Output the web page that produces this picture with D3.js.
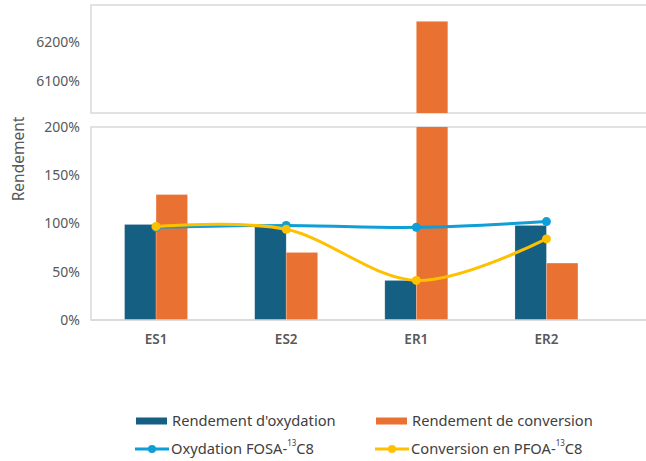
<!DOCTYPE html>
<html>
<head>
<meta charset="utf-8">
<script src="https://cdn.jsdelivr.net/npm/d3@7"></script>
<style>
  html, body { margin: 0; padding: 0; background: #fff; }
  svg { display: block; font-family: "Noto Sans", "Open Sans", sans-serif; }
</style>
</head>
<body>
<svg id="chart" width="646" height="461"></svg>
<script>
// Categories and series values (percent)
const categories = ["ES1", "ES2", "ER1", "ER2"];
const rendementOxydation = [99, 97, 41, 98];
const rendementConversion = [130, 70, 6253, 59];
const oxydationFOSA = [96, 98, 96, 102];
const conversionPFOA = [97, 94, 41, 84];

const lowerTicks = [0, 50, 100, 150, 200];
const upperTicks = [6100, 6200];

const colors = {
  oxydation: "#156082",
  conversion: "#E97132",
  fosa: "#0F9ED5",
  pfoa: "#FFC000"
};

const svg = d3.select("#chart");

// Two stacked panels sharing the same x axis (broken y axis)
const left = 91, right = 700;
const upper = { top: 5, bottom: 113 };
const lower = { top: 127, bottom: 320 };

const x = d3.scaleBand().domain(categories).range([91, 611.5]).padding(0);
const barW = x.bandwidth() * 0.242;
const cx = c => x(c) + x.bandwidth() / 2;

const yLow = d3.scaleLinear().domain([0, 200]).range([lower.bottom, lower.top]);
const yUp = d3.scaleLinear().domain([6000, 6300]).range([120, 3]);

// Clip paths for each panel
const defs = svg.append("defs");
defs.append("clipPath").attr("id", "clipUp").append("rect")
  .attr("x", left).attr("y", upper.top).attr("width", right - left).attr("height", upper.bottom - upper.top);
defs.append("clipPath").attr("id", "clipLow").append("rect")
  .attr("x", left).attr("y", lower.top).attr("width", right - left).attr("height", lower.bottom - lower.top);

// Panel frames
[upper, lower].forEach(p => {
  svg.append("rect")
    .attr("x", left).attr("y", p.top)
    .attr("width", right - left).attr("height", p.bottom - p.top)
    .attr("fill", "none").attr("stroke", "#d9d9d9").attr("stroke-width", 1.5);
});

// Y axis tick labels
const axisStyle = g => {
  g.select(".domain").remove();
  g.selectAll(".tick line").remove();
  g.selectAll("text").attr("fill", "#595959").style("font-size", "14px")
    .style("font-family", "'Noto Sans', 'Open Sans', sans-serif");
};
svg.append("g").attr("transform", "translate(80,0)")
  .call(d3.axisLeft(yLow).tickValues(lowerTicks).tickSize(0).tickPadding(0).tickFormat(d => d + "%"))
  .call(axisStyle);
svg.append("g").attr("transform", "translate(80,0)")
  .call(d3.axisLeft(yUp).tickValues(upperTicks).tickSize(0).tickPadding(0).tickFormat(d => d + "%"))
  .call(axisStyle);

// Y axis title
svg.append("text")
  .attr("transform", "translate(24,159) rotate(-90)")
  .attr("text-anchor", "middle")
  .attr("fill", "#595959").style("font-size", "15.5px")
  .text("Rendement");

// X axis category labels
svg.append("g").attr("transform", `translate(0,${lower.bottom})`)
  .call(d3.axisBottom(x).tickSize(0).tickPadding(14))
  .call(g => {
    g.select(".domain").remove();
    g.selectAll("text").attr("fill", "#595959").style("font-size", "13.5px")
      .style("font-weight", "600")
      .style("font-family", "'Noto Sans', 'Open Sans', sans-serif");
  });

// Bars, drawn in both panels and clipped to each
const bars = categories.flatMap((c, i) => [
  { c, v: rendementOxydation[i], off: -barW, color: colors.oxydation },
  { c, v: rendementConversion[i], off: 0, color: colors.conversion }
]);

const panels = [
  { y: yLow, clip: "url(#clipLow)", base: lower.bottom },
  { y: yUp, clip: "url(#clipUp)", base: upper.bottom + 2 }
];
panels.forEach(p => {
  svg.append("g").attr("clip-path", p.clip)
    .selectAll("rect").data(bars).join("rect")
    .attr("x", d => cx(d.c) + d.off)
    .attr("width", barW)
    .attr("y", d => Math.min(p.y(d.v), p.base + 5))
    .attr("height", d => Math.max(0, p.base + 5 - p.y(d.v)))
    .attr("fill", d => d.color)
    .attr("stroke", "#ffffff").attr("stroke-opacity", 0.35).attr("stroke-width", 0.6);
});

// Frame bottom line redrawn over the bars
svg.append("line").attr("x1", left).attr("x2", right)
  .attr("y1", lower.bottom).attr("y2", lower.bottom)
  .attr("stroke", "#d9d9d9").attr("stroke-width", 1.5);

// Smoothed lines with markers
const lineGen = d3.line()
  .x(d => cx(d.c)).y(d => yLow(d.v))
  .curve(d3.curveCardinal.tension(0));

[[oxydationFOSA, colors.fosa], [conversionPFOA, colors.pfoa]].forEach(([vals, col]) => {
  const pts = categories.map((c, i) => ({ c, v: vals[i] }));
  const g = svg.append("g");
  g.append("path").datum(pts).attr("d", lineGen)
    .attr("fill", "none").attr("stroke", col).attr("stroke-width", 3)
    .attr("stroke-linecap", "round");
  g.selectAll("circle").data(pts).join("circle")
    .attr("cx", d => cx(d.c)).attr("cy", d => yLow(d.v))
    .attr("r", 4.5).attr("fill", col);
});

// Legend
const legend = svg.append("g").style("font-size", "14.7px").attr("fill", "#404040");
const legendItems = [
  { type: "bar", color: colors.oxydation, x: 136, y: 421, parts: [["Rendement d'oxydation"]] },
  { type: "bar", color: colors.conversion, x: 376, y: 421, parts: [["Rendement de conversion"]] },
  { type: "line", color: colors.fosa, x: 135, y: 449, parts: [["Oxydation FOSA-"], ["13", "sup"], ["C8", "after"]] },
  { type: "line", color: colors.pfoa, x: 375, y: 449, parts: [["Conversion en PFOA-"], ["13", "sup"], ["C8", "after"]] }
];
legendItems.forEach(it => {
  const g = legend.append("g");
  if (it.type === "bar") {
    g.append("rect").attr("x", it.x).attr("y", it.y - 3.5).attr("width", 31).attr("height", 7).attr("fill", it.color);
  } else {
    g.append("line").attr("x1", it.x).attr("x2", it.x + 34).attr("y1", it.y).attr("y2", it.y)
      .attr("stroke", it.color).attr("stroke-width", 3);
    g.append("circle").attr("cx", it.x + 17).attr("cy", it.y).attr("r", 4).attr("fill", it.color);
  }
  const t = g.append("text").attr("x", it.x + 36).attr("y", it.y).attr("dy", "0.35em");
  it.parts.forEach(([s, kind]) => {
    const ts = t.append("tspan").text(s);
    if (kind === "sup") ts.attr("dy", -8).style("font-size", "8px");
    if (kind === "after") ts.attr("dy", 8);
  });
});
</script>
</body>
</html>
